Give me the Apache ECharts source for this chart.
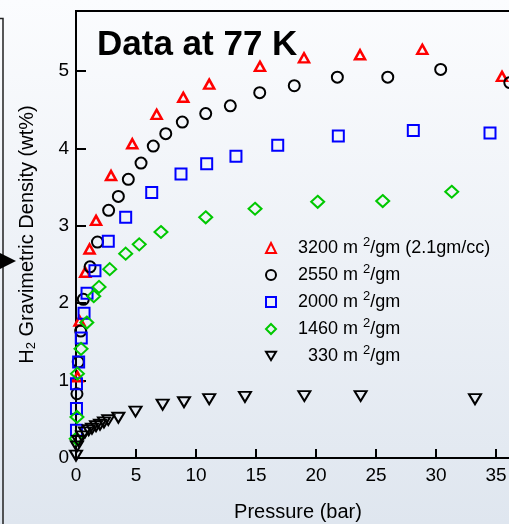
<!DOCTYPE html>
<html>
<head>
<meta charset="utf-8">
<script src="https://cdn.jsdelivr.net/npm/echarts@6/dist/echarts.min.js"></script>
<style>html,body{margin:0;padding:0;}#c{width:509px;height:524px;}</style>
</head>
<body>
<div id="c"></div>
<script>
// ---- data (pressure in bar, H2 density in wt%) ----
const titleText = 'Data at 77 K';
const xTicks = [0, 5, 10, 15, 20, 25, 30, 35];
const yTicks = [0, 1, 2, 3, 4, 5];
const seriesNames = ['3200', '2550', '2000', '1460', '330'];

const s3200 = [[0.13,1.05],[0.3,1.77],[0.77,2.40],[1.13,2.70],[1.67,3.07],[2.92,3.65],[4.69,4.06],[6.72,4.44],[8.94,4.66],[11.1,4.83],[15.33,5.06],[19.0,5.17],[23.67,5.21],[28.86,5.28],[35.5,4.93]];
const s2550 = [[0.08,0.83],[0.19,1.24],[0.39,1.64],[0.61,2.05],[1.17,2.47],[1.79,2.79],[2.72,3.20],[3.53,3.38],[4.36,3.60],[5.42,3.81],[6.44,4.03],[7.48,4.19],[8.86,4.34],[10.81,4.45],[12.86,4.55],[15.31,4.72],[18.19,4.81],[21.78,4.92],[25.98,4.92],[30.39,5.02],[36.15,4.85]];
const s2000 = [[0.04,0.36],[0.04,0.64],[0.04,0.96],[0.22,1.24],[0.44,1.55],[0.67,1.87],[0.92,2.13],[1.58,2.42],[2.69,2.80],[4.14,3.11],[6.31,3.43],[8.75,3.67],[10.89,3.80],[13.33,3.90],[16.81,4.04],[21.86,4.16],[28.11,4.23],[34.5,4.20]];
const s1460 = [[0.02,0.25],[0.08,0.53],[0.12,1.09],[0.42,1.41],[0.9,1.75],[1.48,2.09],[1.92,2.21],[2.81,2.44],[4.14,2.64],[5.27,2.76],[7.08,2.92],[10.81,3.11],[14.92,3.22],[20.14,3.31],[25.56,3.32],[31.31,3.44]];
const s330 = [[0.0,0.03],[0.08,0.15],[0.19,0.22],[0.5,0.28],[0.75,0.33],[1.06,0.36],[1.33,0.38],[1.67,0.41],[2.0,0.43],[2.33,0.46],[2.69,0.49],[3.53,0.52],[4.96,0.60],[7.22,0.69],[9.0,0.72],[11.1,0.76],[14.08,0.79],[19.03,0.80],[23.72,0.80],[33.25,0.76]];

const legendLabels = {
  '3200': '3200 m {sup|2}/gm (2.1gm/cc)',
  '2550': '2550 m {sup|2}/gm',
  '2000': '2000 m {sup|2}/gm',
  '1460': '1460 m {sup|2}/gm',
  '330': '  330 m {sup|2}/gm'
};

const FONT = '"Liberation Sans", Arial, sans-serif';
const DOWN_TRI = 'path://M0,0L12,0L6,10Z';
const chart = echarts.init(document.getElementById('c'), null, {renderer: 'canvas'});

function sc(name, data, symbol, size, color, bw) {
  return {
    name: name, type: 'scatter', data: data, symbol: symbol, symbolSize: size,
    clip: false,
    itemStyle: {color: 'rgba(0,0,0,0)', borderColor: color, borderWidth: bw || 2, opacity: 1},
    emphasis: {disabled: true}
  };
}

const option = {
  animation: false,
  backgroundColor: new echarts.graphic.LinearGradient(0, 0, 0, 1, [
    {offset: 0, color: '#fbfcfe'}, {offset: 1, color: '#dfe6ef'}
  ]),
  title: {
    text: titleText, left: 97, top: 28, padding: 0,
    textStyle: {fontSize: 35, fontWeight: 'bold', color: '#000', fontFamily: FONT}
  },
  grid: {left: 76, right: -11, top: 11, bottom: 66, show: true, borderColor: '#000', borderWidth: 2,
    backgroundColor: 'transparent', containLabel: false, outerBoundsMode: 'none'},
  xAxis: {
    type: 'value', min: 0, max: 37, interval: 5,
    name: 'Pressure (bar)', nameLocation: 'middle', nameGap: 44,
    nameTextStyle: {fontSize: 20, color: '#000', fontFamily: FONT},
    axisLine: {show: true, lineStyle: {color: '#000', width: 2}},
    axisTick: {show: true, inside: true, length: 9, lineStyle: {color: '#000', width: 2}},
    axisLabel: {fontSize: 19, color: '#000', fontFamily: FONT, margin: 8,
      formatter: function (v) { return xTicks.indexOf(v) >= 0 ? String(v) : ''; }},
    splitLine: {show: false}
  },
  yAxis: {
    type: 'value', min: 0, max: 5.775, interval: 1,
    name: 'H{sub|2} Gravimetric Density (wt%)', nameLocation: 'middle', nameGap: 38,
    nameTextStyle: {fontSize: 20, color: '#000', fontFamily: FONT, lineHeight: 22,
      rich: {sub: {fontSize: 13, lineHeight: 0, verticalAlign: 'bottom', color: '#000', fontFamily: FONT}}},
    axisLine: {show: true, lineStyle: {color: '#000', width: 2}},
    axisTick: {show: true, inside: true, length: 10, lineStyle: {color: '#000', width: 2}},
    axisLabel: {fontSize: 19, color: '#000', fontFamily: FONT, margin: 7, showMaxLabel: false,
      formatter: function (v) { return yTicks.indexOf(v) >= 0 ? String(v) : ''; }},
    splitLine: {show: false}
  },
  legend: {
    orient: 'vertical', left: 265, top: 236, padding: 0,
    itemWidth: 10, itemHeight: 10, itemGap: 3,
    data: seriesNames,
    formatter: function (n) { return legendLabels[n]; },
    textStyle: {fontSize: 18, color: '#000', fontFamily: FONT, lineHeight: 24, padding: [0, 0, 0, 17],
      rich: {sup: {fontSize: 13, lineHeight: 0, verticalAlign: 'top', color: '#000', fontFamily: FONT}}},
    itemStyle: {borderWidth: 2}
  },
  graphic: [
    {type: 'polyline', shape: {points: [[0, 18.5], [3, 18.5], [3, 524]]}, style: {stroke: '#222', lineWidth: 1.5, fill: null}},
    {type: 'polygon', shape: {points: [[0, 253], [16, 261], [0, 269]]}, style: {fill: '#000'}}
  ],
  series: [
    sc('3200', s3200, 'triangle', [10, 9], '#ff0000', 2.5),
    sc('2550', s2550, 'circle', 11, '#000000', 2),
    sc('2000', s2000, 'rect', 11, '#0000ff', 2),
    sc('1460', s1460, 'diamond', [13, 12], '#00c800', 2),
    sc('330', s330, DOWN_TRI, [12, 10], '#000000', 2)
  ]
};
chart.setOption(option);
</script>
</body>
</html>
